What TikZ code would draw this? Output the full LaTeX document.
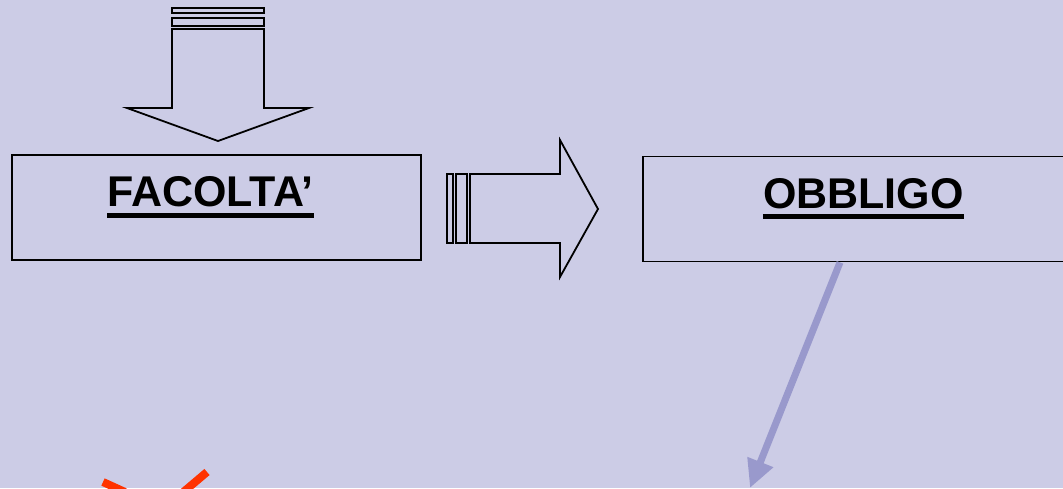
\documentclass[tikz,border=0pt]{standalone}
\usepackage{fontspec}
\setmainfont{Liberation Sans}
\usepackage{xcolor}
\usetikzlibrary{arrows.meta,positioning,calc}
\definecolor{lavender}{RGB}{204,204,230}
\definecolor{linkblue}{RGB}{153,153,204}
\definecolor{tickred}{RGB}{255,51,0}

\begin{document}
\begin{tikzpicture}[x=1pt, y=-1pt,
    box/.style={draw, line width=1.8, rectangle, minimum height=105, inner sep=0},
    title/.style={font=\fontsize{43}{50}\selectfont\bfseries, inner sep=0, anchor=base},
    uline/.style={line width=5},
    blockarrow/.style={draw, line width=1.8},
    link/.style={draw=linkblue, line width=7, -{Triangle[width=26,length=28]}},
    tick/.style={draw=tickred, line width=8}]
\useasboundingbox (0,0) rectangle (1063,488);
\clip (0,0) rectangle (1063,488);
\fill[lavender] (0,0) rectangle (1063,488);

% Facolta box
\node[box, minimum width=409] (facolta) at (216.5,207.5) {};
\node[title] (facoltatxt) at (210.5,206) {FACOLTA’};
\draw[uline] ([yshift=-9]facoltatxt.base west) -- ([yshift=-9]facoltatxt.base east);

% Obbligo box (runs off the right edge)
\node[box, minimum width=440] (obbligo) at (863,209) {};
\node[title] (obbligotxt) at (863.5,208) {OBBLIGO};
\draw[uline] ([yshift=-8]obbligotxt.base west) -- ([yshift=-8]obbligotxt.base east);

% Striped arrow down
\draw[blockarrow] (172,8) rectangle (264,13);
\draw[blockarrow] (172,18) rectangle (264,26);
\draw[blockarrow] (172,29) -- (264,29) -- (264,108) -- (309,108) -- (218,141)
    -- (127,108) -- (172,108) -- cycle;

% Striped arrow right
\draw[blockarrow] (447,174) rectangle (453,243);
\draw[blockarrow] (456,174) rectangle (467,243);
\draw[blockarrow] (470,174) -- (560,174) -- (560,140) -- (598,209) -- (560,277)
    -- (560,243) -- (470,243) -- cycle;

% Link down from obbligo
\coordinate (dest) at (750,488);
\draw[link] ([xshift=-23]obbligo.south) -- (dest);

% Red mark at the bottom
\coordinate (ticka) at (103,482);
\coordinate (tickb) at (125,492);
\coordinate (tickc) at (207,472);
\coordinate (tickd) at (181,494);
\draw[tick] (ticka) -- (tickb);
\draw[tick] (tickc) -- (tickd);
\end{tikzpicture}
\end{document}
